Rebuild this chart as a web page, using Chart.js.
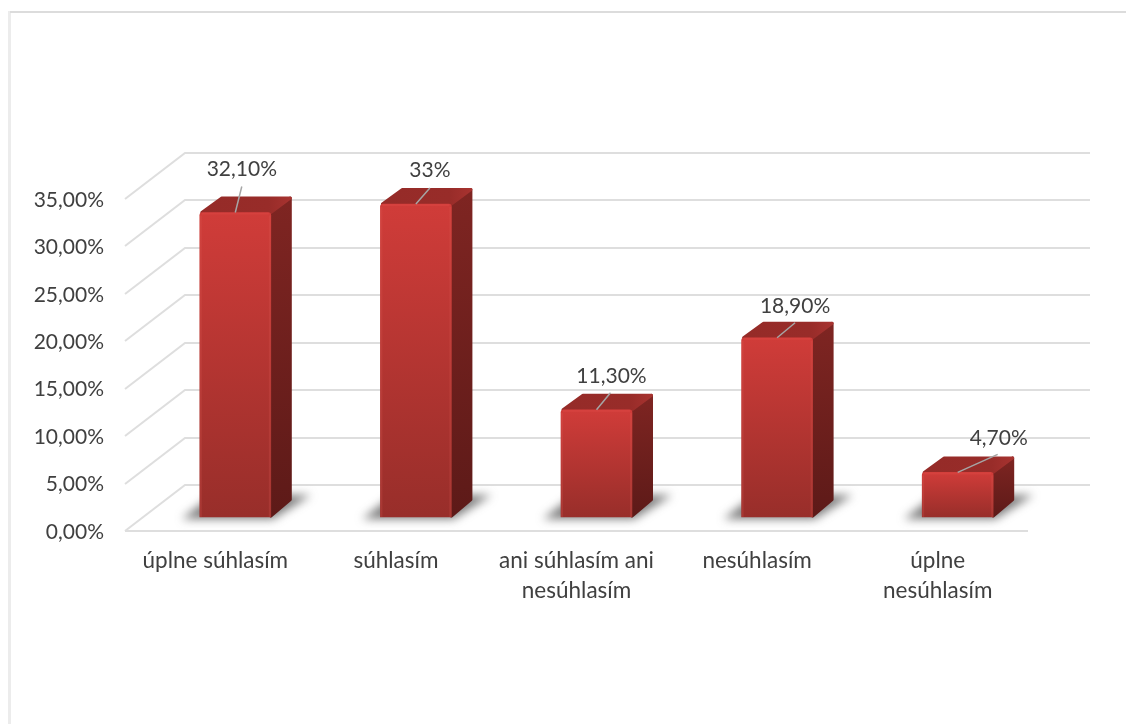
<!DOCTYPE html>
<html lang="sk">
<head>
<meta charset="utf-8">
<title>Chart</title>
<style>
html,body{margin:0;padding:0;background:#fff;overflow:hidden}
#wrap{position:absolute;left:0;top:0;width:1126px;height:724px}
</style>
<script src="https://cdn.jsdelivr.net/npm/chart.js@4/dist/chart.umd.min.js"></script>
</head>
<body>
<div id="wrap"><canvas id="c" width="1126" height="724"></canvas></div>
<script>
const categories = ["úplne súhlasím", "súhlasím", ["ani súhlasím ani", "nesúhlasím"], "nesúhlasím", ["úplne", "nesúhlasím"]];
const values = [32.1, 33, 11.3, 18.9, 4.7];
const valueLabels = ["32,10%", "33%", "11,30%", "18,90%", "4,70%"];
const yTicks = ["0,00%", "5,00%", "10,00%", "15,00%", "20,00%", "25,00%", "30,00%", "35,00%"];

const FONT = "Lato, 'Open Sans', sans-serif";
const TEXT = "#404040", GRID = "#dedede";
const WALL = {dx: 60, dy: 46};
const BAR_SHIFT = {x: 20, y: -14};
const DEPTH = {dx: 21, dy: 16};
const labelOffset = [[6.5,-43.5],[14,-34],[15,-34],[18,-31],[41,-34]];
const leaderEnd = [[6.5,-26],[14,-16],[14,-17],[18,-15],[40,-18]];

const threeD = {
  id: "threeD",
  beforeDraw(chart) {
    const c = chart.ctx;
    c.save();
    c.fillStyle = "#fff"; c.fillRect(0, 0, chart.width, chart.height);
    c.fillStyle = "#ececec"; c.fillRect(8, 11, 3, chart.height - 11);
    c.fillStyle = "#dcdcdc"; c.fillRect(10, 11, chart.width - 10, 2);
    c.restore();
  },
  beforeDatasetsDraw(chart) {
    const c = chart.ctx, {left, right} = chart.chartArea, y = chart.scales.y;
    c.save();
    c.strokeStyle = GRID; c.lineWidth = 2;
    y.ticks.forEach(t => {
      const p = Math.round(y.getPixelForValue(t.value));
      c.beginPath();
      c.moveTo(left, p);
      c.lineTo(left + WALL.dx, p - WALL.dy);
      c.lineTo(right + WALL.dx + 2, p - WALL.dy);
      c.stroke();
    });
    const p0 = Math.round(y.getPixelForValue(0));
    c.beginPath(); c.moveTo(left, p0); c.lineTo(right, p0); c.stroke();

    const bars = chart.getDatasetMeta(0).data;
    bars.forEach(b => {
      const L = b.x - b.width / 2 + BAR_SHIFT.x, R = b.x + b.width / 2 + BAR_SHIFT.x;
      const B = b.base + BAR_SHIFT.y, T = b.y + BAR_SHIFT.y;
      c.save();
      c.filter = "blur(5px)";
      c.fillStyle = "rgba(70,70,70,.7)";
      c.beginPath();
      c.moveTo(L - 18, B + 2);
      c.lineTo(R + 2, B + 2);
      c.lineTo(R + 40, B - 22);
      c.lineTo(R + 14, B - 22);
      c.lineTo(L + 8, B - 18);
      c.closePath(); c.fill();
      c.restore();

      const sg = c.createLinearGradient(0, T - DEPTH.dy, 0, B);
      sg.addColorStop(0, "#7f2522"); sg.addColorStop(1, "#5d1a18");
      c.fillStyle = sg; c.strokeStyle = sg; c.lineWidth = 3; c.lineJoin = "round";
      c.beginPath();
      c.moveTo(R, T + 1);
      c.lineTo(R + DEPTH.dx - 1.5, T - DEPTH.dy + 1.5);
      c.lineTo(R + DEPTH.dx - 1.5, B - DEPTH.dy - 1.5);
      c.lineTo(R, B - 1);
      c.closePath(); c.fill(); c.stroke();

      const tg = c.createLinearGradient(L, 0, R + DEPTH.dx, 0);
      tg.addColorStop(0, "#952b28"); tg.addColorStop(.75, "#982c29"); tg.addColorStop(1, "#a83330");
      c.fillStyle = tg; c.strokeStyle = tg;
      c.beginPath();
      c.moveTo(L + 2, T);
      c.lineTo(L + DEPTH.dx + 1, T - DEPTH.dy + 1.5);
      c.lineTo(R + DEPTH.dx - 1.5, T - DEPTH.dy + 1.5);
      c.lineTo(R, T);
      c.closePath(); c.fill(); c.stroke();
    });
    c.restore();
    c.save();
    c.translate(BAR_SHIFT.x, BAR_SHIFT.y);
  },
  afterDatasetsDraw(chart) {
    const c = chart.ctx;
    c.restore();
    const bars = chart.getDatasetMeta(0).data;
    c.save();
    bars.forEach((b, i) => {
      const L = b.x - b.width / 2 + BAR_SHIFT.x, R = b.x + b.width / 2 + BAR_SHIFT.x;
      const T = b.y + BAR_SHIFT.y, B = b.base + BAR_SHIFT.y;
      // soft bevel along the edges of the front face
      c.fillStyle = "rgba(225,90,85,.22)";
      c.fillRect(L, T + 3, 2, B - T - 3);
      c.fillRect(R - 2, T + 3, 2, B - T - 3);
      c.fillStyle = "rgba(230,80,75,.3)";
      c.fillRect(L + 2, T, R - L - 4, 2);
      // leader line
      const x = b.x + BAR_SHIFT.x;
      c.strokeStyle = "#a6a6a6"; c.lineWidth = 1.5;
      c.beginPath();
      c.moveTo(x, T);
      c.lineTo(x + leaderEnd[i][0], T + leaderEnd[i][1]);
      c.stroke();
      // value label
      c.fillStyle = TEXT;
      c.font = "21px " + FONT;
      c.textAlign = "center"; c.textBaseline = "middle";
      c.fillText(valueLabels[i], x + labelOffset[i][0], T + labelOffset[i][1]);
    });
    c.restore();
  }
};

new Chart(document.getElementById("c"), {
  type: "bar",
  data: {
    labels: categories,
    datasets: [{
      data: values,
      barThickness: 71,
      clip: false,
      borderRadius: {topLeft: 3, topRight: 3, bottomLeft: 0, bottomRight: 0},
      borderSkipped: false,
      backgroundColor(ctx) {
        const area = ctx.chart.chartArea;
        if (!area) return "#b5322f";
        const s = ctx.chart.scales.y;
        const top = s.getPixelForValue(values[ctx.dataIndex]), bot = s.getPixelForValue(0);
        const g = ctx.chart.ctx.createLinearGradient(0, top, 0, bot);
        g.addColorStop(0, "#d03c39");
        g.addColorStop(1, "#982e2a");
        return g;
      }
    }]
  },
  options: {
    responsive: false,
    animation: false,
    events: [],
    layout: {padding: {left: 0, right: 98, top: 199, bottom: 0}},
    plugins: {legend: {display: false}, tooltip: {enabled: false}, title: {display: false}},
    scales: {
      x: {
        grid: {display: false, drawTicks: false},
        border: {display: false},
        afterFit(s) { s.height = 193; },
        ticks: {
          color: TEXT, maxRotation: 0, autoSkip: false, padding: 15,
          font: {family: FONT, size: 22.5, lineHeight: 1.33}
        }
      },
      y: {
        min: 0, max: 35,
        grid: {display: false, drawTicks: false},
        border: {display: false},
        afterFit(s) { s.width = 125; },
        ticks: {
          stepSize: 5, color: TEXT, padding: 21, labelOffset: 1,
          font: {family: FONT, size: 21},
          callback(v) { return yTicks[v / 5]; }
        }
      }
    }
  },
  plugins: [threeD]
});
</script>
</body>
</html>
